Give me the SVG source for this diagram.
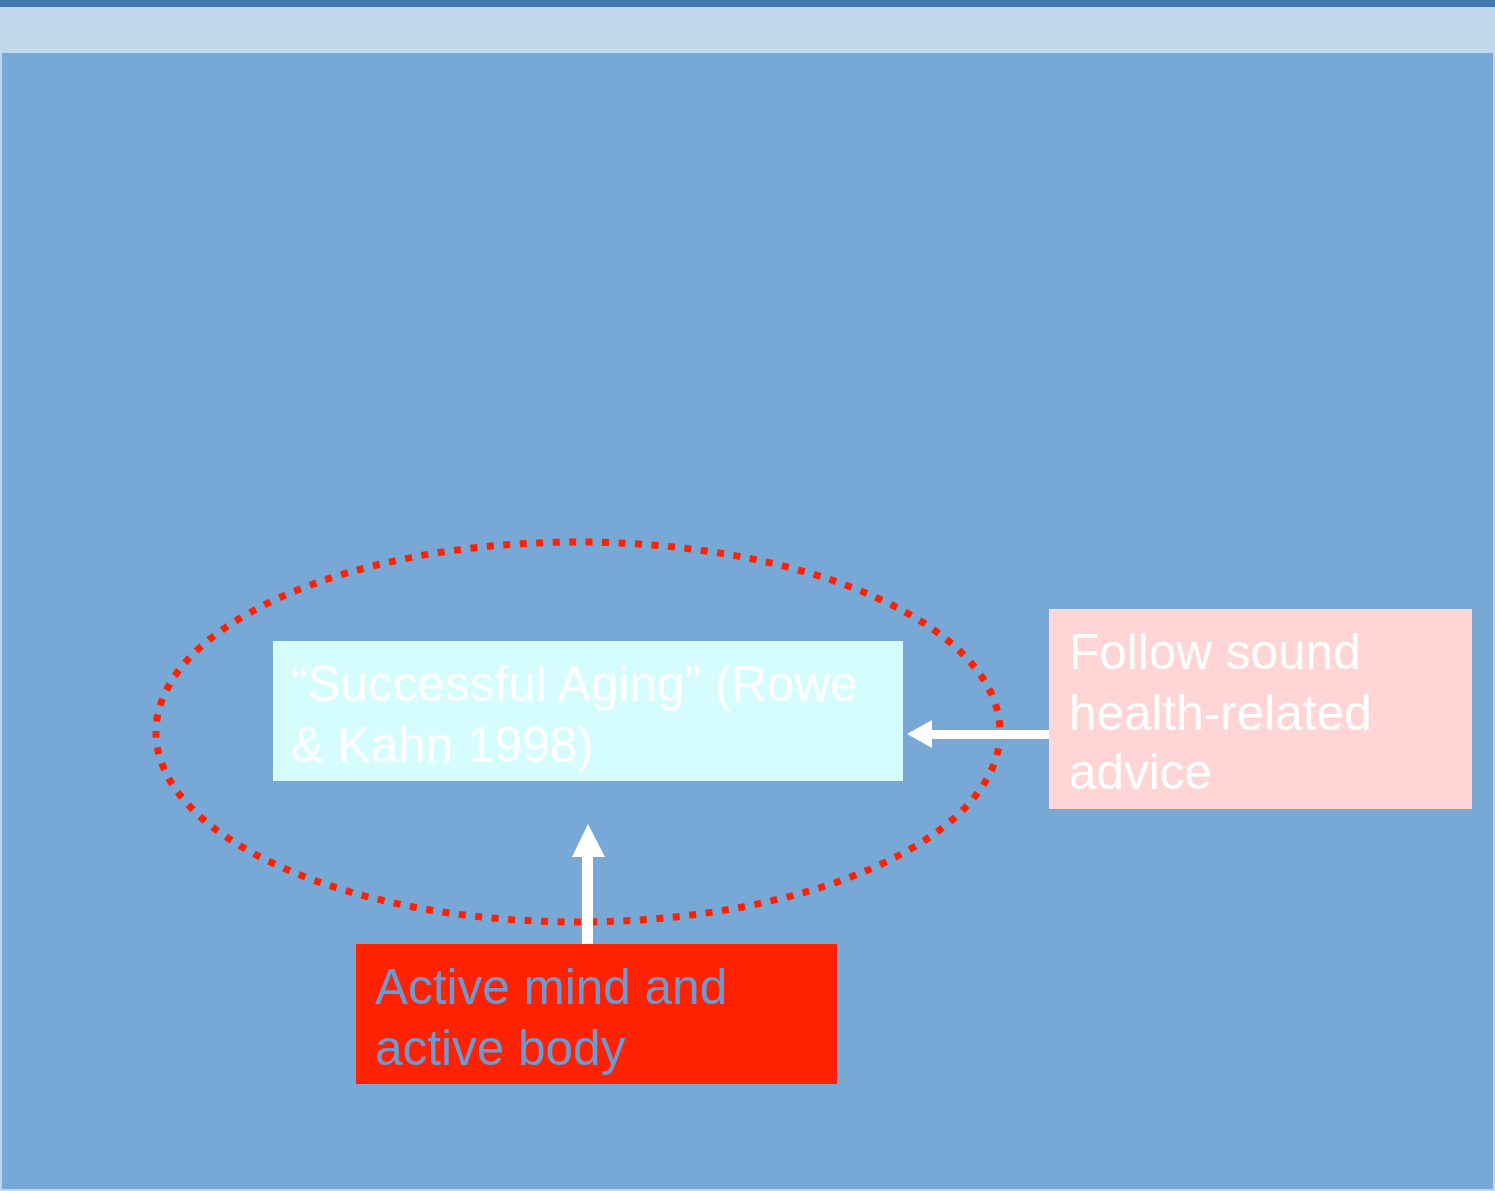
<svg xmlns="http://www.w3.org/2000/svg" width="1495" height="1191" viewBox="0 0 1495 1191">
<style>
.t{font-family:"Liberation Sans",Arial,sans-serif;font-size:49.5px}
.w{fill:#ffffff}
.b{fill:#6b9bd2}
</style>
<rect x="0" y="0" width="1495" height="1191" fill="#c1d7eb"/>
<rect x="2" y="53" width="1491" height="1136" fill="#78a8d6"/>
<rect x="0" y="0" width="1495" height="7" fill="#4379ad"/>
<ellipse cx="578" cy="732" rx="422" ry="190" fill="none" stroke="#ff2200" stroke-width="7" stroke-dasharray="7 9.5"/>
<g id="n1">
<rect x="273" y="641" width="630" height="140" fill="#d5fdfd"/>
<text class="t w" x="291" y="701">“Successful Aging” (Rowe</text>
<text class="t w" x="291" y="762">&amp; Kahn 1998)</text>
</g>
<g id="n2">
<rect x="1049" y="609" width="423" height="200" fill="#ffd5d5"/>
<text class="t w" x="1069" y="669">Follow sound</text>
<text class="t w" x="1069" y="730">health-related</text>
<text class="t w" x="1069" y="789">advice</text>
</g>
<g id="n3">
<rect x="356" y="944" width="481" height="140" fill="#ff2200"/>
<text class="t b" x="375" y="1004">Active mind and</text>
<text class="t b" x="375" y="1065">active body</text>
</g>
<g id="connectors" fill="#ffffff">
<polygon points="1049,730 932,730 932,720 907,734 932,748 932,739 1049,739"/>
<polygon points="582,944 582,857 572,857 588,824 605,857 593,857 593,944"/>
</g>
</svg>
